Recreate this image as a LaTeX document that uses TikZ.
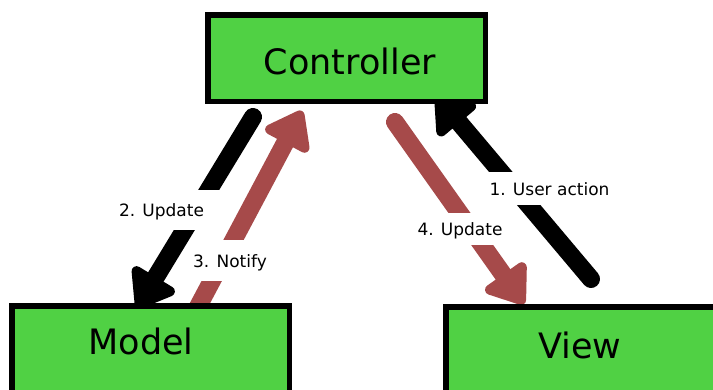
\documentclass[tikz,border=0pt]{standalone}
\usepackage{fontspec}
\setmainfont{DejaVu Sans}
\usetikzlibrary{arrows.meta}
\definecolor{boxgreen}{RGB}{80,209,68}
\definecolor{flowred}{RGB}{166,74,74}
\pgfdeclarelayer{bg}
\pgfsetlayers{bg,main}
\begin{document}
\begin{tikzpicture}[x=1pt,y=-1pt,
  box/.style={draw=black, line width=5.5pt, fill=boxgreen, rectangle, inner sep=0pt},
  boxtext/.style={font=\fontsize{35}{40}\selectfont, inner sep=0pt, anchor=base},
  flow/.style={line width=18pt, line cap=round,
    -{Triangle[round,length=40pt,width=56pt,line width=10pt]}},
  tag/.style={fill=white, font=\fontsize{17}{20}\selectfont, inner xsep=2pt,
    inner ysep=0pt, text height=15pt, text depth=2pt, anchor=base}
]
\useasboundingbox (0,0) rectangle (713,389);
\clip (0,0) rectangle (713,389);

% the three components
\node[box, minimum width=277.5pt, minimum height=86.5pt] (ctrl) at (346.5,58) {};
\node[box, minimum width=277.5pt, minimum height=120pt] (model) at (150.5,365.75) {};
\node[box, minimum width=300pt, minimum height=120pt] (view) at (595.75,366.75) {};
\node[boxtext] (ctrltext) at (350,74) {Controller};
\node[boxtext] (modeltext) at (141,354) {Model};
\node[boxtext] (viewtext) at (580,358) {View};

% arrow ends
\coordinate (c2) at (253,117);
\coordinate (m2) at (137,308);
\coordinate (m3) at (191,320);
\coordinate (c3) at (302,111);
\coordinate (c4) at (395,122);
\coordinate (v4) at (524,304);
\coordinate (v1) at (591,279);
\coordinate (c1) at (436,95);

% white page and the arrows, behind the boxes
\begin{pgfonlayer}{bg}
  \fill[white] (0,0) rectangle (713,389);
  \draw[flow, draw=black, fill=black] (c2) -- (m2);
  \draw[flow, draw=flowred, fill=flowred] (m3) -- (c3);
  \draw[flow, draw=flowred, fill=flowred] (c4) -- (v4);
  \draw[flow, draw=black, fill=black] (v1) -- (c1);
\end{pgfonlayer}

% step labels, masking the arrows
\node[tag, minimum height=40pt, inner xsep=16pt] (t2) at (161.5,216) {2. Update};
\node[tag, minimum height=41pt] (t3) at (230,267) {3. Notify};
\node[tag, minimum height=32pt, inner xsep=6pt] (t4) at (460,235) {4. Update};
\node[tag, minimum height=33pt, inner xsep=5pt] (t1) at (549.5,195) {1. User action};
\end{tikzpicture}
\end{document}
